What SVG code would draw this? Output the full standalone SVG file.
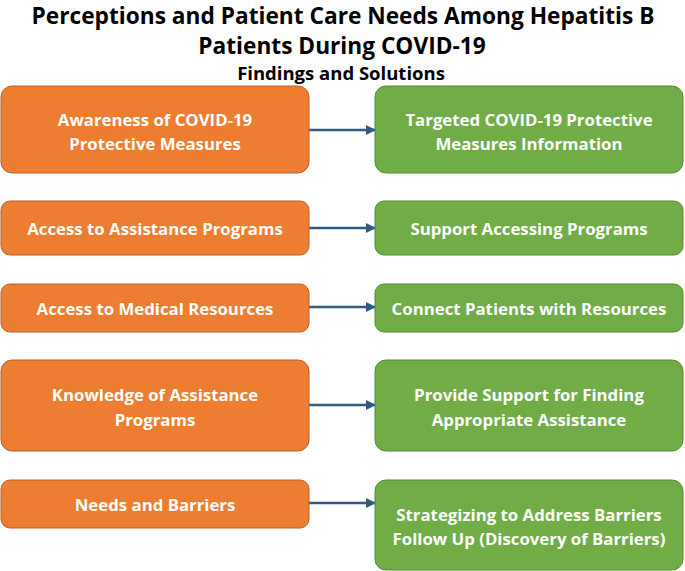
<svg xmlns="http://www.w3.org/2000/svg" width="685" height="571" viewBox="0 0 685 571">
<defs>
<marker id="ah" viewBox="0 0 10 10" refX="9" refY="5" markerWidth="4" markerHeight="4" orient="auto" markerUnits="strokeWidth">
<path d="M0,0 L10,5 L0,10 z" fill="#2E5A88"/>
</marker>
<style>
.t{font-family:"Open Sans","Liberation Sans",sans-serif;font-weight:700;fill:#000;text-anchor:middle}
.f{fill:#ED7D31;stroke:#B9612A;stroke-width:1}
.s{fill:#70AD47;stroke:#558A35;stroke-width:1}
.l{font-family:"Open Sans","Liberation Sans",sans-serif;font-weight:700;font-size:16.8px;fill:#fff;text-anchor:middle}
.c{stroke:#2E5A88;stroke-width:2.5;fill:none;marker-end:url(#ah)}
</style>
</defs>
<rect width="685" height="571" fill="#fff"/>
<g id="title">
<text class="t" x="343" y="24" font-size="22.7">Perceptions and Patient Care Needs Among Hepatitis B</text>
<text class="t" x="342" y="54" font-size="22.7">Patients During COVID-19</text>
<text class="t" x="341" y="80" font-size="18.5">Findings and Solutions</text>
</g>
<g id="connectors">
<line class="c" x1="309" y1="130" x2="375" y2="130"/>
<line class="c" x1="309" y1="228" x2="375" y2="228"/>
<line class="c" x1="309" y1="307" x2="375" y2="307"/>
<line class="c" x1="309" y1="405" x2="375" y2="405"/>
<line class="c" x1="309" y1="503" x2="375" y2="503"/>
</g>
<g id="f1"><rect class="f" x="1" y="86" width="308" height="87" rx="11"/>
<text class="l" x="155" y="126">Awareness of COVID-19</text>
<text class="l" x="155" y="150">Protective Measures</text></g>
<g id="s1"><rect class="s" x="375" y="86" width="308" height="87" rx="11"/>
<text class="l" x="529" y="126">Targeted COVID-19 Protective</text>
<text class="l" x="529" y="150">Measures Information</text></g>
<g id="f2"><rect class="f" x="1" y="201" width="308" height="54" rx="9"/>
<text class="l" x="155" y="235">Access to Assistance Programs</text></g>
<g id="s2"><rect class="s" x="375" y="201" width="308" height="54" rx="9"/>
<text class="l" x="529" y="235">Support Accessing Programs</text></g>
<g id="f3"><rect class="f" x="1" y="284" width="308" height="48" rx="9"/>
<text class="l" x="155" y="315">Access to Medical Resources</text></g>
<g id="s3"><rect class="s" x="375" y="284" width="308" height="48" rx="9"/>
<text class="l" x="529" y="315">Connect Patients with Resources</text></g>
<g id="f4"><rect class="f" x="1" y="360" width="308" height="91" rx="11"/>
<text class="l" x="155" y="401">Knowledge of Assistance</text>
<text class="l" x="155" y="426">Programs</text></g>
<g id="s4"><rect class="s" x="375" y="360" width="308" height="91" rx="11"/>
<text class="l" x="529" y="401">Provide Support for Finding</text>
<text class="l" x="529" y="426">Appropriate Assistance</text></g>
<g id="f5"><rect class="f" x="1" y="480" width="308" height="48" rx="9"/>
<text class="l" x="155" y="511">Needs and Barriers</text></g>
<g id="s5"><rect class="s" x="375" y="480" width="308" height="90" rx="11"/>
<text class="l" x="529" y="521">Strategizing to Address Barriers</text>
<text class="l" x="529" y="545">Follow Up (Discovery of Barriers)</text></g>
</svg>
